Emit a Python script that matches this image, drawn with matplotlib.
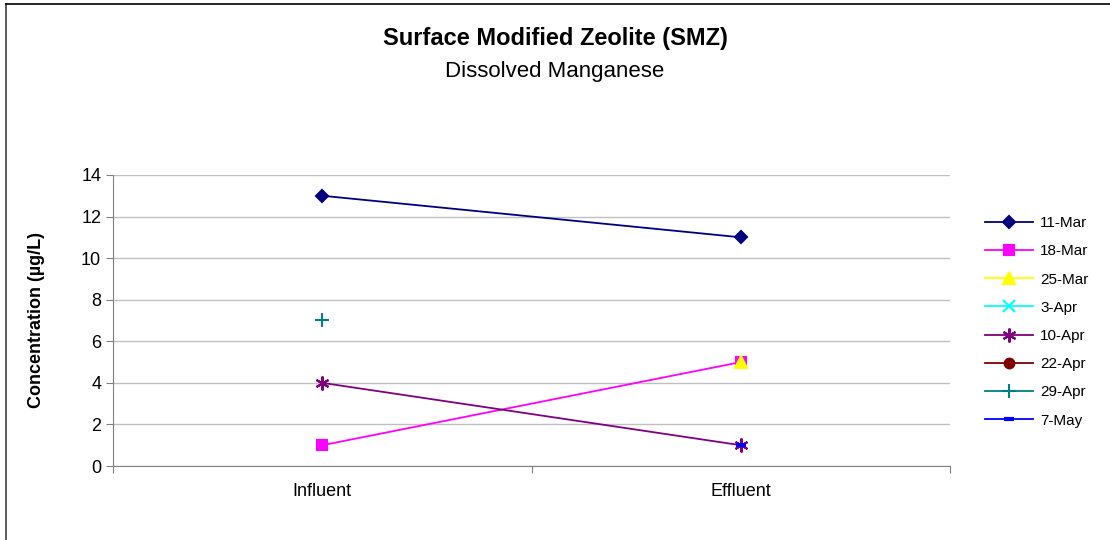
import numpy as np
import matplotlib.pyplot as plt
from matplotlib.lines import Line2D

categories = ["Influent", "Effluent"]
dates = ["11-Mar", "18-Mar", "25-Mar", "3-Apr", "10-Apr", "22-Apr", "29-Apr", "7-May"]
values = {
    "11-Mar": [13, 11],
    "18-Mar": [1, 5],
    "25-Mar": [np.nan, 5],
    "3-Apr": [np.nan, np.nan],
    "10-Apr": [4, 1],
    "22-Apr": [np.nan, np.nan],
    "29-Apr": [7, np.nan],
    "7-May": [np.nan, 1],
}
colors = ["#000080", "#FF00FF", "#FFFF00", "#00FFFF", "#800080", "#800000", "#008080", "#0000FF"]
markers = ["D", "s", "^", "x", (6, 2, 0), "o", "+", "_"]
sizes = [6, 7, 8, 8, 10, 7, 10, 7]

plt.rcParams['font.family'] = ['Liberation Sans', 'DejaVu Sans']

fig = plt.figure(figsize=(11.1, 5.4), dpi=100)
ax = fig.add_axes([0.1018, 0.137, 0.7542, 0.539])

x = np.arange(len(categories))
for d, c, m, s in zip(dates, colors, markers, sizes):
    kw = dict(color=c, marker=m, markersize=s, linewidth=1.3, label=d,
              markerfacecolor=c, markeredgecolor=c, markeredgewidth=1.5)
    if d == "7-May":
        kw["markeredgewidth"] = 3
    ax.plot(x, values[d], **kw)

ax.set_xlim(-0.5, 1.5)
ax.set_ylim(0, 14)
ax.set_yticks(range(0, 15, 2))
ax.set_xticks([-0.5, 0.5, 1.5], minor=False)
ax.set_xticklabels([])
ax.set_xticks(x, minor=True)
ax.set_xticklabels(categories, minor=True)
ax.tick_params(axis='x', which='minor', length=0, pad=12, labelsize=13)
ax.tick_params(axis='x', which='major', length=5, direction='out', color='#808080')
ax.tick_params(axis='y', length=5, direction='out', color='#808080', labelsize=13)
ax.yaxis.grid(True, color='#C0C0C0', linewidth=1)
ax.set_axisbelow(True)
for sp in ['top', 'right']:
    ax.spines[sp].set_visible(False)
for sp in ['left', 'bottom']:
    ax.spines[sp].set_color('#808080')

fig.text(37 / 1110, 1 - 320 / 540, "Concentration (µg/L)", rotation=90,
         ha='center', va='center', fontsize=13, fontweight='bold')
fig.text(0.5, 1 - 38 / 540, "Surface Modified Zeolite (SMZ)", ha='center', va='center',
         fontsize=17, fontweight='bold')
fig.text(0.5, 1 - 71 / 540, "Dissolved Manganese", ha='center', va='center', fontsize=16)

leg = ax.legend(loc='center left', bbox_to_anchor=(1.042, 0.495), frameon=False,
                fontsize=11, handlelength=3.1, labelspacing=0.93, handletextpad=0.5,
                borderpad=0, borderaxespad=0)

fig.add_artist(Line2D([6 / 1110, 6 / 1110], [0, 1 - 4 / 540], transform=fig.transFigure,
                      color='#404040', linewidth=1.2))
fig.add_artist(Line2D([6 / 1110, 1], [1 - 4 / 540, 1 - 4 / 540], transform=fig.transFigure,
                      color='black', linewidth=1.2))

fig.savefig("out.png", dpi=100)
